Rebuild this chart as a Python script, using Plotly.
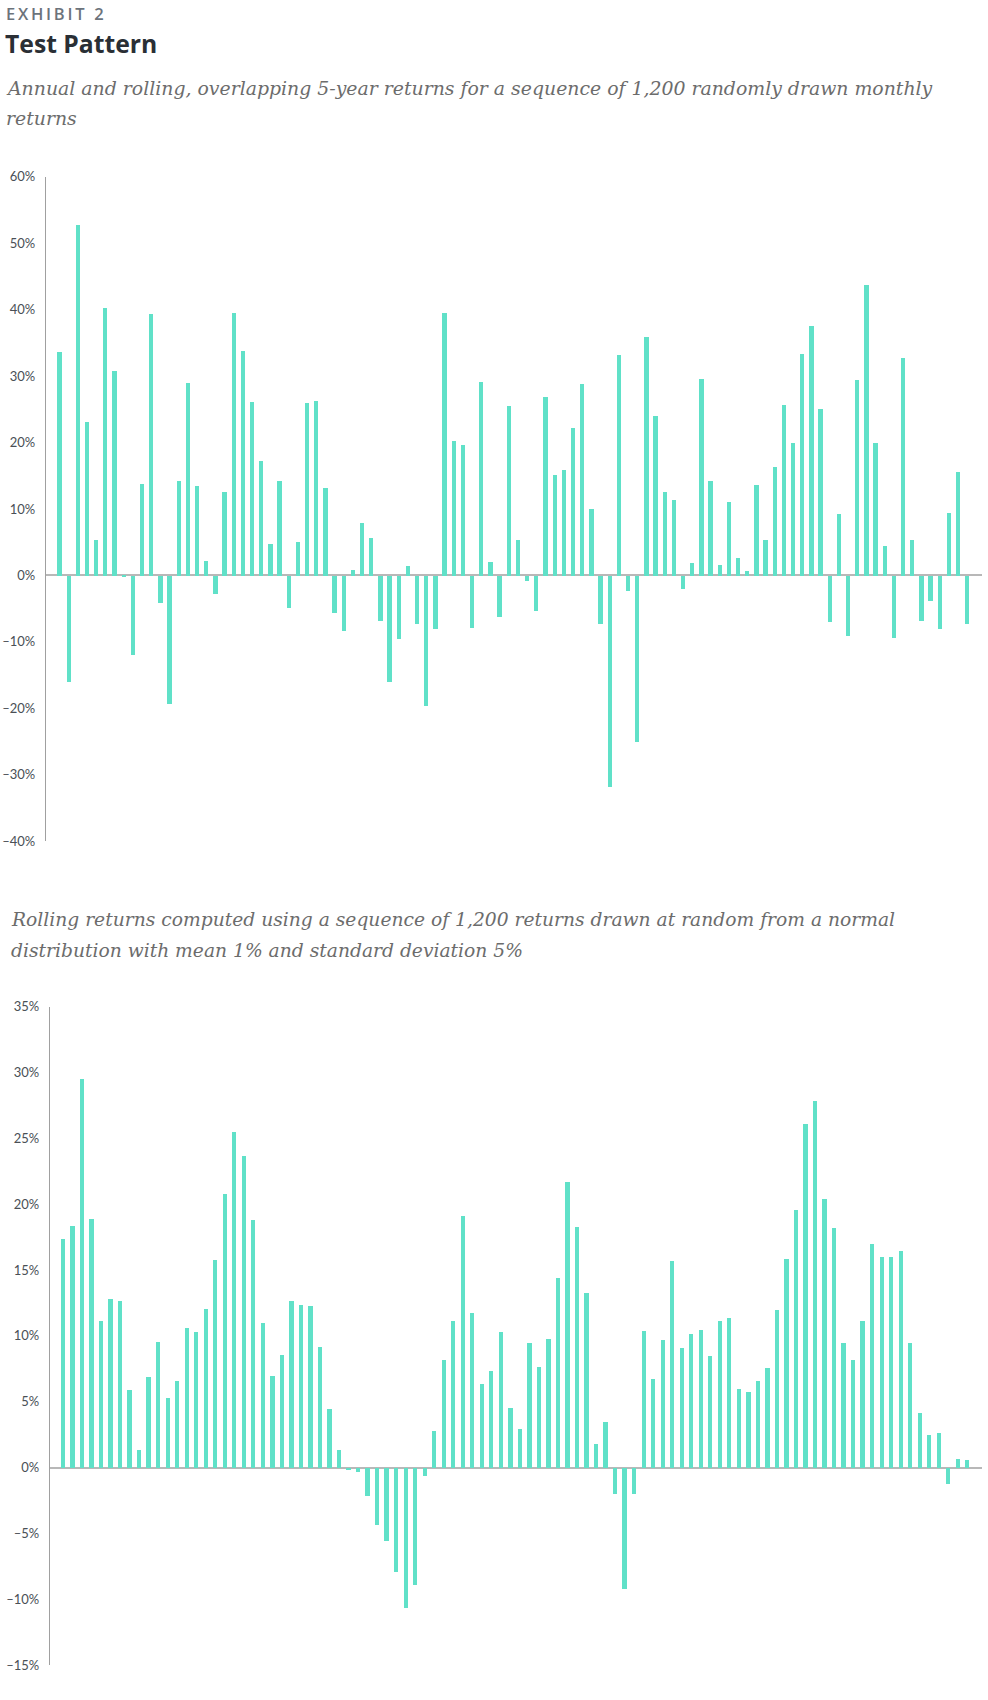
import plotly.graph_objects as go

# ---------------- data ----------------
annual_years = list(range(1, 101))
annual_returns = [
    33.6, -16.1, 52.8, 23.1, 5.4, 40.3, 30.8, -0.25, -12.0, 13.8,
    39.3, -4.2, -19.4, 14.2, 29.0, 13.5, 2.2, -2.8, 12.5, 39.5,
    33.8, 26.2, 17.2, 4.7, 14.2, -4.9, 5.0, 26.0, 26.3, 13.2,
    -5.6, -8.3, 0.9, 7.9, 5.6, -6.9, -16.1, -9.6, 1.4, -7.3,
    -19.7, -8.1, 39.5, 20.3, 19.7, -7.9, 29.2, 2.0, -6.2, 25.5,
    5.4, -0.9, -5.4, 26.9, 15.2, 15.9, 22.2, 28.8, 10.0, -7.3,
    -31.9, 33.2, -2.4, -25.0, 35.9, 24.0, 12.5, 11.3, -2.0, 1.9,
    29.6, 14.2, 1.6, 11.0, 2.6, 0.7, 13.6, 5.4, 16.4, 25.7,
    19.9, 33.3, 37.5, 25.0, -7.0, 9.3, -9.1, 29.5, 43.7, 19.9,
    4.5, -9.4, 32.8, 5.3, -6.8, -3.9, -8.1, 9.4, 15.6, -7.3,
]

rolling_windows = list(range(1, 97))
rolling_returns = [
    17.4, 18.4, 29.5, 18.9, 11.2, 12.8, 12.7, 5.9, 1.35, 6.9,
    9.6, 5.3, 6.6, 10.6, 10.3, 12.1, 15.8, 20.8, 25.5, 23.7,
    18.8, 11.0, 7.0, 8.6, 12.7, 12.4, 12.3, 9.2, 4.5, 1.35,
    -0.1, -0.3, -2.1, -4.3, -5.5, -7.9, -10.6, -8.9, -0.6, 2.85,
    8.2, 11.2, 19.1, 11.8, 6.4, 7.4, 10.3, 4.6, 3.0, 9.5,
    7.7, 9.8, 14.4, 21.7, 18.3, 13.3, 1.8, 3.5, -2.0, -9.2,
    -2.0, 10.4, 6.8, 9.7, 15.7, 9.15, 10.2, 10.5, 8.5, 11.2,
    11.4, 6.0, 5.8, 6.6, 7.6, 12.0, 15.9, 19.6, 26.1, 27.9,
    20.4, 18.2, 9.5, 8.2, 11.2, 17.0, 16.0, 16.0, 16.5, 9.5,
    4.2, 2.5, 2.7, -1.2, 0.7, 0.6,
]

top_tick_vals = [60, 50, 40, 30, 20, 10, 0, -10, -20, -30, -40]
top_tick_text = ["60%", "50%", "40%", "30%", "20%", "10%", "0%",
                 "\u201310%", "\u201320%", "\u201330%", "\u201340%"]
bot_tick_vals = [35, 30, 25, 20, 15, 10, 5, 0, -5, -10, -15]
bot_tick_text = ["35%", "30%", "25%", "20%", "15%", "10%", "5%", "0%",
                 "\u20135%", "\u201310%", "\u201315%"]

exhibit_label = "EXHIBIT 2"
title_text = "Test Pattern"
subtitle_top = ["Annual and rolling, overlapping 5-year returns for a sequence of 1,200 randomly drawn monthly",
                "returns"]
subtitle_bottom = ["Rolling returns computed using a sequence of 1,200 returns drawn at random from a normal",
                   "distribution with mean 1% and standard deviation 5%"]

# ---------------- figure ----------------
W, H = 988, 1700
BAR = "#60e1c8"
TICK_FONT = dict(family="Lato, 'Open Sans', sans-serif", size=13, color="#4a5056")
SERIF = "'DejaVu Serif', 'Liberation Serif', serif"
SANS = "'Open Sans', Lato, sans-serif"


def py(p):
    return 1 - p / H


def px(p):
    return p / W


fig = go.Figure()
fig.add_trace(go.Bar(x=annual_years, y=annual_returns, marker=dict(color=BAR, line=dict(width=0)),
                     width=0.47, xaxis="x", yaxis="y", hoverinfo="x+y"))
fig.add_trace(go.Bar(x=rolling_windows, y=rolling_returns, marker=dict(color=BAR, line=dict(width=0)),
                     width=0.45, xaxis="x2", yaxis="y2", hoverinfo="x+y"))

axis_common = dict(showgrid=False, zeroline=True, zerolinecolor="#b8b8b8", zerolinewidth=1.5,
                   showline=True, linecolor="#a0a0a0", linewidth=1, ticks="",
                   tickfont=TICK_FONT, ticklabelstandoff=7, fixedrange=True)

fig.update_layout(
    width=W, height=H,
    margin=dict(l=0, r=0, t=0, b=0),
    paper_bgcolor="white", plot_bgcolor="white",
    showlegend=False,
    bargap=0,
    xaxis=dict(domain=[px(45.8), px(981.7)], range=[-0.47, 101.59], anchor="y",
               showgrid=False, zeroline=False, showline=False, showticklabels=False, ticks=""),
    yaxis=dict(domain=[py(841), py(170.5)], range=[-40, 60], anchor="x",
               tickvals=top_tick_vals, ticktext=top_tick_text, **axis_common),
    xaxis2=dict(domain=[px(49.8), px(981.7)], range=[-0.36, 97.53], anchor="y2",
                showgrid=False, zeroline=False, showline=False, showticklabels=False, ticks=""),
    yaxis2=dict(domain=[py(1673), py(1008)], range=[-15, 35], anchor="x2",
                tickvals=bot_tick_vals, ticktext=bot_tick_text, **axis_common),
)

spaced_exhibit = "\u2009".join(exhibit_label)
annotations = [
    dict(text=spaced_exhibit, x=px(3.5), y=py(5.8),
         font=dict(family=SANS, size=16.5, color="#6c737b", weight=600)),
    dict(text=title_text, x=px(3), y=py(35.5),
         font=dict(family=SANS, size=24.7, color="#2a2f35", weight=700)),
    dict(text=subtitle_top[0], x=px(3.5), y=py(81),
         font=dict(family=SERIF, size=18.88, color="#6c6c6c", style="italic")),
    dict(text=subtitle_top[1], x=px(3.5), y=py(111.5),
         font=dict(family=SERIF, size=18.88, color="#6c6c6c", style="italic")),
    dict(text=subtitle_bottom[0], x=px(8.5), y=py(920),
         font=dict(family=SERIF, size=18.7, color="#6c6c6c", style="italic")),
    dict(text=subtitle_bottom[1], x=px(8.5), y=py(951),
         font=dict(family=SERIF, size=18.7, color="#6c6c6c", style="italic")),
]
for a in annotations:
    a.update(xref="paper", yref="paper", xanchor="left", yanchor="middle", showarrow=False, align="left")
fig.update_layout(annotations=annotations)

fig.write_html("out.html", config={"displayModeBar": False},
               post_script="document.body.style.margin='0';document.body.style.overflow='hidden';")
